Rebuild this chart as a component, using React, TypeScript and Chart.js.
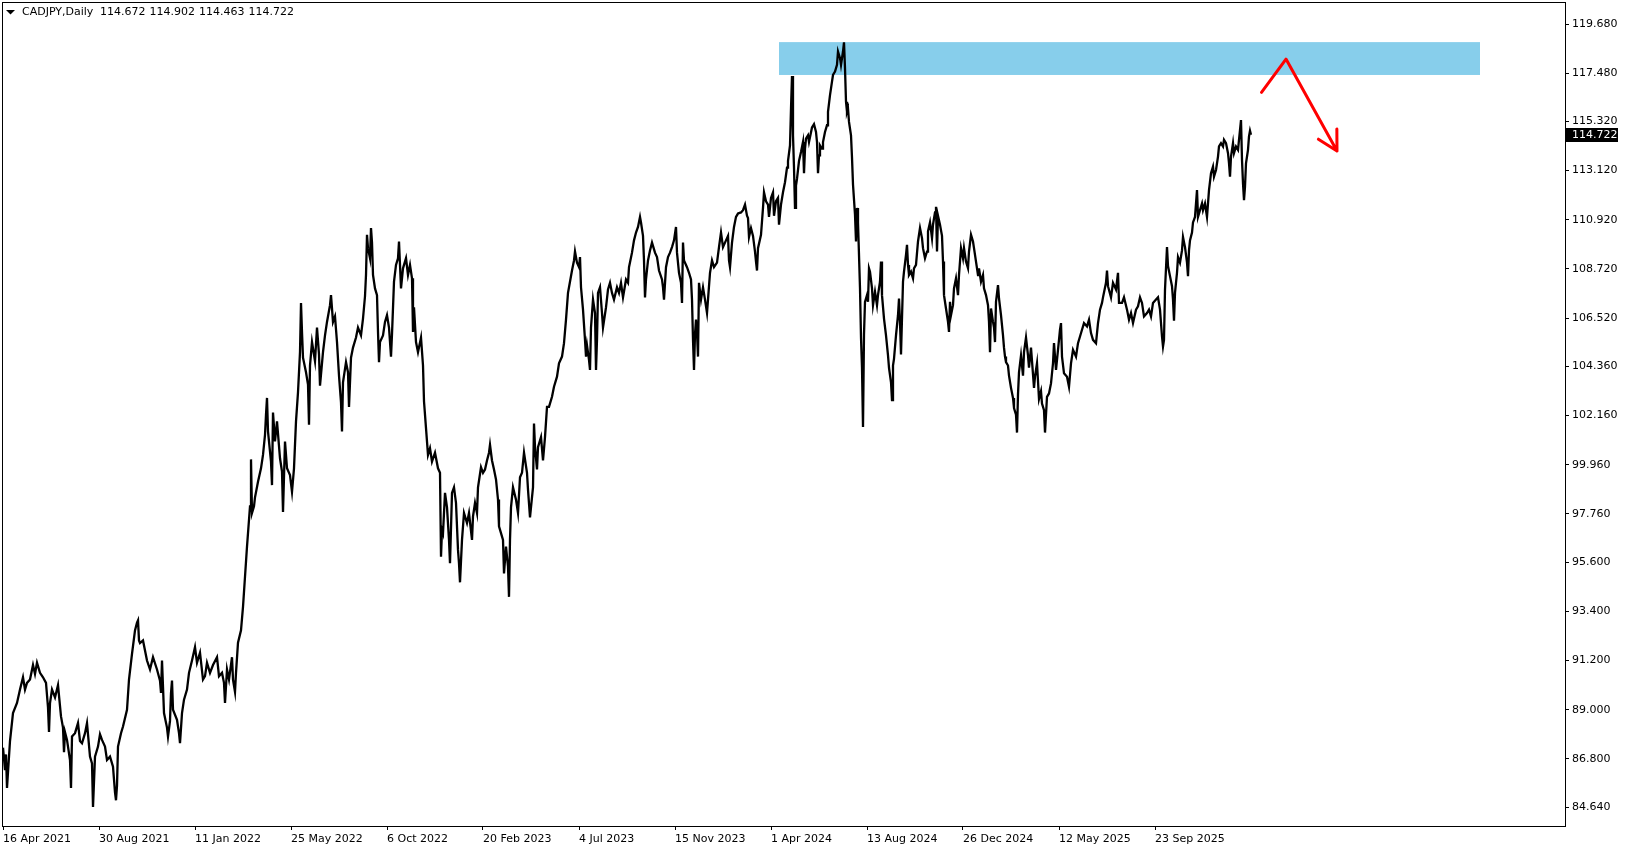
import { useEffect, useRef } from 'react';
import { Chart, registerables } from 'chart.js';

Chart.register(...registerables);

// ---- data ----
const symbolTitle = 'CADJPY,Daily';
const lastOHLC = ['114.672', '114.902', '114.463', '114.722'];
const lastPrice = 114.722;

const dateTickBars = [0, 96, 192, 288, 384, 480, 576, 672, 768, 864, 960, 1056, 1152];
const dateTickLabels = [
  '16 Apr 2021', '30 Aug 2021', '11 Jan 2022', '25 May 2022', '6 Oct 2022', '20 Feb 2023',
  '4 Jul 2023', '15 Nov 2023', '1 Apr 2024', '13 Aug 2024', '26 Dec 2024', '12 May 2025', '23 Sep 2025',
];
const priceTicks = [
  119.68, 117.48, 115.32, 113.12, 110.92, 108.72, 106.52, 104.36, 102.16,
  99.96, 97.76, 95.6, 93.4, 91.2, 89.0, 86.8, 84.64,
];

// bar index (trading day) and price path of the daily series
const bars = [
  0, 2, 3, 4, 5, 7, 10, 14, 17, 20, 22, 24, 27, 30, 32, 34, 37, 40, 43, 45, 46, 47, 49, 52, 55, 58, 60, 61, 62, 64,
  67, 68, 69, 72, 75, 77, 79, 82, 84, 87, 89, 90, 92, 95, 97, 99, 102, 104, 107, 110, 112, 113, 114, 115, 118, 120,
  124, 126, 129, 132, 134, 135, 136, 137, 140, 144, 147, 150, 154, 157, 158, 159, 161, 164, 165, 167, 168, 169, 170,
  174, 176, 177, 179, 181, 184, 186, 189, 192, 194, 197, 200, 202, 204, 207, 210, 214, 216, 219, 221, 222, 224, 226,
  229, 230, 232, 233, 235, 238, 240, 242, 244, 246, 247, 248, 249, 251,
  252, 255, 258, 260, 262, 263, 264, 265, 268, 269, 270, 272, 274, 277, 279, 280, 282, 284, 287, 289, 291, 293, 295,
  297, 298, 299, 300, 303, 305, 306, 307, 309, 312, 314, 316, 317, 320, 322, 324, 327, 328, 330, 332, 334, 336, 338,
  339, 340, 343, 345, 346, 348, 350, 353, 355, 358, 360, 362, 363, 364, 365, 367, 368, 369, 370, 372, 374, 375, 376,
  377, 380, 382, 384, 386, 388, 389, 391, 393, 395, 396, 398, 400, 403, 405, 407, 409, 410, 411, 413, 415, 418, 420,
  421, 423, 425, 427, 429, 432, 435,
  437, 438, 439, 440, 442, 444, 446, 447, 449, 451, 453, 455, 456, 457, 459, 461, 464, 466, 469, 470, 472, 474, 475,
  478, 480, 482, 484, 486, 487, 489, 491, 493, 495, 496, 498, 500, 501, 503, 505, 506, 507, 508, 510, 513, 515, 517,
  519, 521, 524, 525, 527, 528, 530, 531, 532, 534, 535, 538, 540, 542, 544, 546, 549, 551, 554, 556, 559, 561, 563,
  565, 566, 569, 571, 572, 574, 576, 577, 578, 580, 582, 583, 584, 586, 587, 588, 590, 592, 593, 594, 595, 597, 599,
  600, 603, 605, 607, 609, 611, 614, 616, 618, 620, 623, 625, 626, 629, 631, 633, 635, 637, 638, 640, 641, 642, 643,
  645, 647, 649, 652, 654, 656, 659, 660, 661, 663, 665, 667, 669, 671, 673, 674, 676, 678, 679, 680, 681, 684, 686,
  688, 689, 690, 691, 692, 693, 694, 695, 696, 698, 700, 702, 704, 705, 707, 709, 711, 714, 716, 718, 720, 723, 725,
  726, 727, 729, 731, 733, 735, 738, 740,
  742, 744, 745, 746, 748, 750, 752, 753, 754, 755, 758, 760, 761, 763, 765, 766, 768, 770, 771, 773, 775, 776, 778,
  780, 782, 784, 785, 787, 788, 789, 790, 791, 792, 793, 794, 796, 798, 800, 801, 802, 803, 805, 806, 809, 811, 813,
  814, 815, 816, 817, 819, 820, 822, 824, 825, 827, 829, 830, 832, 834, 835, 837, 838, 840, 841, 842, 843, 844, 845,
  846, 848, 849, 850, 852, 853, 854, 855, 856, 857, 858, 859, 860, 861, 862, 864, 865, 866,
  867, 869, 870, 872, 874, 875, 877, 878, 879, 881, 883, 885, 886, 888, 889, 890, 891, 893, 895, 896, 897, 898, 900,
  901, 903, 904, 905, 906, 908, 910, 911, 913, 915, 917, 919, 920, 922, 924, 925, 927, 929, 930, 932, 933, 934, 935,
  937, 939, 940, 941, 943, 945, 946, 947, 948, 950, 951, 953, 955, 956, 958, 960, 961, 963, 965, 966, 968, 970, 971,
  973, 975, 976, 978, 980, 981, 983, 985, 986, 987, 988, 990, 991, 992, 993, 995, 996, 998, 1000, 1001, 1002, 1003,
  1005, 1006, 1008, 1010, 1011, 1013, 1014, 1015, 1016, 1018, 1020, 1021, 1023, 1025, 1026, 1028,
  1030, 1031, 1032, 1034, 1036, 1038, 1039, 1041, 1042, 1044, 1046, 1048, 1050, 1051, 1053, 1055, 1057, 1058, 1059,
  1061, 1064, 1066, 1068, 1070, 1073, 1075, 1077, 1079, 1081, 1084, 1086, 1088, 1090, 1093, 1095, 1097, 1099, 1100,
  1103, 1104, 1105, 1108, 1110, 1113, 1115, 1116, 1119, 1121, 1124, 1126, 1128, 1130, 1133, 1135, 1137, 1139, 1141,
  1144, 1146, 1148, 1150, 1153, 1155, 1157, 1159, 1160, 1161, 1162, 1164, 1165, 1167, 1169, 1170, 1171, 1172, 1174,
  1175, 1177, 1179, 1180, 1182, 1184, 1185, 1186, 1187, 1189, 1190, 1192, 1194, 1195, 1197, 1199, 1200, 1202, 1204,
  1205, 1206, 1208, 1210, 1211, 1213, 1215, 1216, 1218, 1220, 1221, 1223, 1225, 1226, 1227, 1228, 1230, 1231, 1233,
  1235, 1236, 1238, 1239, 1240, 1241, 1242, 1243, 1245, 1246, 1247, 1248,
];
const prices = [
  87.3, 86.3, 87.0, 85.5, 86.2, 87.6, 88.85, 89.3, 89.9, 90.45, 89.9, 90.2, 90.35, 91.0, 90.6, 91.1, 90.65, 90.45, 90.2, 89.1, 88.0, 89.3, 89.9, 89.55, 90.1, 88.7, 88.2, 87.1, 88.0, 87.65,
  86.75, 85.5, 87.8, 87.95, 88.4, 87.6, 87.5, 87.95, 88.4, 86.9, 86.6, 84.65, 86.9, 87.35, 87.9, 87.65, 87.35, 86.75, 86.9, 86.45, 85.3, 84.95, 85.6, 87.35, 87.95, 88.25,
  89.0, 90.35, 91.5, 92.55, 92.9, 93.0, 92.1, 91.98, 92.1, 91.2, 90.8, 91.35, 90.8, 90.3, 89.75, 91.2, 88.85, 88.2, 87.8, 88.5, 89.75, 90.3, 89.0,
  88.55, 87.95, 87.5, 88.85, 89.45, 89.9, 90.65, 91.2, 91.8, 91.1, 91.55, 90.35, 90.5, 91.1, 90.65, 91.0, 91.35, 90.5, 90.65, 90.2, 89.3, 90.8, 90.35,
  91.35, 90.35, 89.8, 90.65, 92.0, 92.55, 93.6, 94.95, 96.3, 97.5, 98.1, 100.2, 97.8, 98.1,
  98.5, 99.2, 99.8, 100.4, 101.3, 102.2, 102.95, 101.45, 100.1, 99.05, 102.3, 101.0, 101.9, 100.25, 99.65, 97.85, 101.0, 99.8, 99.5, 98.75, 99.8, 101.9, 103.2,
  105.0, 107.2, 105.9, 104.75, 104.1, 103.55, 101.75, 104.4, 105.45, 104.6, 106.1, 104.9, 103.5, 105.0, 105.75, 106.35, 107.1, 107.55, 106.35, 106.6, 105.45, 103.95, 102.75,
  101.45, 103.65, 104.55, 104.1, 102.55, 104.75, 105.2, 105.65, 106.1, 105.75, 106.5, 107.5, 108.45, 110.25, 109.65, 109.2, 110.55, 109.9, 108.45, 107.85, 107.55, 105.9, 104.55,
  105.45, 105.75, 106.35, 106.65, 106.1, 104.8, 105.8, 108.15, 108.9, 109.2, 109.95, 107.85, 108.75, 109.2, 108.45, 108.9, 108.3, 105.9, 107.0, 105.45, 105.0, 105.65, 104.4,
  102.8, 101.6, 100.4, 100.7, 100.1, 100.5, 99.8,
  99.6, 95.85, 97.05, 96.9, 98.7, 98.05, 96.6, 95.55, 98.7, 98.95, 98.25, 96.15, 95.55, 94.7, 96.6, 97.8, 97.35, 97.8, 96.6, 97.65, 98.25, 97.8, 98.95,
  99.85, 99.6, 99.75, 100.15, 100.5, 100.85, 100.15, 99.75, 99.3, 98.4, 97.2, 96.9, 96.6, 95.1, 96.3, 95.4, 94.05, 96.6, 98.05, 98.95, 98.4, 97.8, 99.4,
  99.6, 100.5, 99.6, 98.85, 97.6, 98.05, 98.95, 101.8, 100.75, 99.75, 100.75, 101.2, 100.15, 101.2, 102.55, 102.55, 103.0, 103.45, 103.9, 104.5, 104.8, 105.4, 106.45,
  107.65, 107.9, 108.65, 109.1, 109.5, 109.0, 108.8, 109.25, 107.9, 106.9, 105.55, 104.8, 105.3, 104.65, 104.2, 106.1, 107.35, 106.75, 104.2, 105.55, 107.65, 107.9, 106.75,
  106.1, 107.0, 107.8, 108.1, 107.65, 107.35, 107.9, 107.65, 108.1, 107.45, 108.25, 108.1, 108.8, 109.45, 110.0, 110.35, 110.6, 111.05, 110.8, 110.2, 109.1, 107.45, 108.25,
  109.1, 109.55, 109.9, 109.45, 109.25, 108.65, 108.25, 107.9, 107.35, 108.8, 109.25, 109.45, 109.7, 110.0, 110.6, 109.45, 108.55, 108.1, 107.2, 109.9, 109.1, 108.8, 108.55,
  108.25, 107.35, 105.55, 104.2, 105.8, 106.45, 105.85, 104.8, 108.1, 107.35, 107.9, 107.35, 106.75, 107.35, 108.55, 109.1, 108.8, 109.0, 109.7, 110.35, 109.7, 110.0, 110.2,
  109.1, 108.8, 109.9, 110.6, 111.05, 111.2, 111.25, 111.35,
  111.6, 111.1, 111.0, 110.15, 110.55, 110.2, 109.5, 109.05, 108.65, 109.65, 110.25, 111.45, 112.15, 111.75, 111.6, 111.05, 111.9, 112.15, 111.1, 111.75, 111.9, 110.7, 111.6,
  112.15, 112.6, 113.25, 113.55, 114.25, 115.9, 117.35, 114.7, 113.25, 111.45, 112.45, 112.75, 113.55, 113.95, 114.4, 113.0, 114.1, 114.55, 114.7, 114.4, 115.05, 115.2, 114.85,
  114.4, 113.0, 113.8, 114.25, 114.1, 114.4, 114.85, 115.15, 115.75, 116.5, 117.1, 117.4, 117.55, 117.85, 118.45, 118.15, 117.85, 118.45, 118.86, 117.7, 116.2, 115.75, 115.9,
  115.3, 114.7, 113.7, 112.5, 111.15, 109.95, 111.45, 110.8, 109.35, 107.85, 105.65, 104.3, 101.65, 105.8, 107.25, 107.55, 107.25, 108.75,
  108.6, 107.85, 107.1, 107.7, 107.1, 107.55, 108.15, 109.05, 107.55, 106.5, 105.75, 104.85, 104.3, 103.65, 102.85, 104.4, 104.7, 105.75, 106.65, 107.4, 106.35, 104.9, 108.15,
  108.6, 109.35, 109.8, 108.9, 108.45, 108.6, 108.3, 108.75, 108.9, 109.95, 110.55, 110.1, 109.65, 109.2, 109.5, 110.4, 110.8, 110.1, 110.7, 111.25, 111.5, 109.5, 111.1,
  110.7, 110.2, 109.05, 107.55, 106.95, 106.35, 105.9, 107.25, 106.65, 107.1, 107.85, 108.3, 107.55, 108.45, 109.65, 109.2, 109.65, 109.05, 108.75, 109.5, 110.25, 109.95, 109.65,
  109.05, 108.45, 108.75, 108.15, 108.45, 107.85, 107.55, 107.1, 106.35, 105.0, 106.95, 106.35, 106.1, 105.45, 107.25, 108.0, 107.4, 106.65, 105.75, 105.2, 104.8, 104.55,
  104.4, 103.95, 103.4, 102.95, 102.5, 102.2, 101.4, 103.1, 104.1, 104.85, 103.95, 105.0, 105.65, 104.85, 104.3, 105.2,
  104.0, 103.4, 103.9, 104.5, 102.9, 103.25, 102.7, 102.4, 101.4, 103.0, 103.15, 103.6, 104.5, 105.4, 104.2, 105.1, 106.0, 106.3, 104.8,
  104.05, 103.9, 103.45, 104.5, 105.1, 104.8, 105.4, 105.7, 106.0, 106.3, 106.15, 106.45, 105.85, 105.55, 105.4, 106.3, 106.9, 107.2, 107.45,
  108.1, 108.65, 107.95, 107.45, 108.1, 107.8, 108.55, 107.2, 107.2, 107.45, 106.9, 106.45, 106.75, 106.3, 106.9, 107.05, 107.45, 107.2, 106.6,
  106.75, 106.9, 106.6, 107.2, 107.35, 107.45, 106.9, 105.7, 105.25, 105.55, 107.8, 109.7, 108.85, 108.4, 107.95, 107.35, 106.4, 107.65, 108.55,
  109.25, 109.0, 109.55, 110.15, 109.7, 109.0, 108.4, 109.55, 110.0, 110.35, 110.8, 111.05, 112.25, 111.05, 111.35, 111.65, 111.35, 111.65, 111.05,
  111.65, 112.25, 113.0, 113.3, 112.85, 113.15, 113.75, 114.2, 114.35, 114.2, 114.5, 114.35, 113.9, 113.45, 112.85, 113.75, 114.35, 113.9, 114.2,
  114.05, 114.5, 115.38, 113.6, 112.55, 111.8, 112.4, 113.45, 114.05, 114.65, 114.9, 114.722,
];

// resistance zone (bar range, price range)
const zoneBars = [776, 1477];
const zonePrices = [118.87, 117.4];
// red arrow drawn by hand
const arrowBars = [1258.5, 1283, 1334];
const arrowPrices = [116.62, 118.11, 114.0];

const FONT = '11px "DejaVu Sans"';

export default function App() {
  const ref = useRef<HTMLCanvasElement>(null);

  useEffect(() => {
    document.body.style.margin = '0';
    const canvas = ref.current;
    if (!canvas) return;

    const mt4Plugin = {
      id: 'mt4Overlay',
      beforeDatasetsDraw(chart: any) {
        const { ctx, scales } = chart;
        const xs = scales.x;
        const ys = scales.y;
        const x1 = xs.getPixelForValue(zoneBars[0]);
        const x2 = xs.getPixelForValue(zoneBars[1]);
        const y1 = ys.getPixelForValue(zonePrices[0]);
        const y2 = ys.getPixelForValue(zonePrices[1]);
        ctx.save();
        ctx.fillStyle = '#87CEEB';
        ctx.fillRect(x1, y1, x2 - x1, y2 - y1);
        ctx.restore();
      },
      afterDatasetsDraw(chart: any) {
        const { ctx, scales } = chart;
        const xs = scales.x;
        const ys = scales.y;
        const pts = arrowBars.map((b, i) => [xs.getPixelForValue(b), ys.getPixelForValue(arrowPrices[i])]);
        ctx.save();
        ctx.strokeStyle = '#FF0000';
        ctx.lineWidth = 3;
        ctx.lineCap = 'round';
        ctx.lineJoin = 'round';
        ctx.beginPath();
        ctx.moveTo(pts[0][0], pts[0][1]);
        for (let i = 1; i < pts.length; i++) ctx.lineTo(pts[i][0], pts[i][1]);
        const [ex, ey] = pts[pts.length - 1];
        const [px, py] = pts[pts.length - 2];
        const ang = Math.atan2(ey - py, ex - px);
        const len = 22;
        const spread = 0.5;
        ctx.moveTo(ex - len * Math.cos(ang - spread), ey - len * Math.sin(ang - spread));
        ctx.lineTo(ex, ey);
        ctx.lineTo(ex - len * Math.cos(ang + spread), ey - len * Math.sin(ang + spread));
        ctx.stroke();
        ctx.restore();
      },
      afterDraw(chart: any) {
        const { ctx, chartArea, scales } = chart;
        ctx.save();
        // frame
        ctx.strokeStyle = '#000';
        ctx.lineWidth = 1;
        ctx.strokeRect(chartArea.left - 0.5, chartArea.top - 0.5, chartArea.right - chartArea.left + 1, chartArea.bottom - chartArea.top + 1);
        // header
        ctx.fillStyle = '#000';
        ctx.beginPath();
        ctx.moveTo(6, 10);
        ctx.lineTo(15, 10);
        ctx.lineTo(10.5, 14.5);
        ctx.closePath();
        ctx.fill();
        ctx.font = FONT;
        ctx.textBaseline = 'middle';
        ctx.textAlign = 'left';
        ctx.fillText(symbolTitle, 22, 12.5);
        lastOHLC.forEach((v, i) => ctx.fillText(v, 100 + i * 49.5, 12.5));
        // last price box
        const y = Math.round(scales.y.getPixelForValue(lastPrice));
        ctx.fillStyle = '#000';
        ctx.fillRect(chartArea.right + 1, y - 7, 52, 14);
        ctx.fillStyle = '#fff';
        ctx.fillText(lastPrice.toFixed(3), chartArea.right + 7, y + 0.5);
        ctx.restore();
      },
    };

    const chart = new Chart(canvas, {
      type: 'line',
      data: {
        datasets: [
          {
            data: bars.map((b, i) => ({ x: b, y: prices[i] })),
            borderColor: '#000',
            borderWidth: 2.3,
            borderJoinStyle: 'miter',
            pointRadius: 0,
            tension: 0,
            fill: false,
          },
        ],
      },
      options: {
        animation: false,
        responsive: false,
        devicePixelRatio: 1,
        layout: { padding: { left: 3, top: 3, right: 0, bottom: 0 } },
        plugins: { legend: { display: false }, tooltip: { enabled: false } },
        scales: {
          x: {
            type: 'linear',
            position: 'bottom',
            min: 0,
            max: 1562,
            afterFit(scale: any) {
              scale.height = 24;
              scale.paddingLeft = 0;
              scale.paddingRight = 0;
            },
            afterBuildTicks(scale: any) {
              scale.ticks = dateTickBars.map((v) => ({ value: v }));
            },
            grid: { display: true, drawOnChartArea: false, drawTicks: true, tickLength: 4, color: '#000', tickColor: '#000' },
            border: { display: false },
            ticks: {
              autoSkip: false,
              maxRotation: 0,
              minRotation: 0,
              align: 'start',
              padding: 3,
              color: '#000',
              font: { family: 'DejaVu Sans', size: 11 },
              callback: (v: any) => {
                const i = dateTickBars.indexOf(Number(v));
                return i >= 0 ? dateTickLabels[i] : '';
              },
            },
          },
          y: {
            type: 'linear',
            position: 'right',
            min: 83.797,
            max: 120.62,
            afterFit(scale: any) {
              scale.width = 64;
              scale.paddingTop = 0;
              scale.paddingBottom = 0;
            },
            afterBuildTicks(scale: any) {
              scale.ticks = priceTicks.map((v) => ({ value: v }));
            },
            grid: { display: true, drawOnChartArea: false, drawTicks: true, tickLength: 4, color: '#000', tickColor: '#000' },
            border: { display: false },
            ticks: {
              autoSkip: false,
              padding: 3,
              color: '#000',
              font: { family: 'DejaVu Sans', size: 11 },
              callback: (v: any) => Number(v).toFixed(3),
            },
          },
        },
      },
      plugins: [mt4Plugin],
    });

    return () => chart.destroy();
  }, []);

  return (
    <div style={{ position: 'absolute', left: 0, top: 0, width: 1629, height: 850, background: '#fff' }}>
      <canvas ref={ref} width={1629} height={850} style={{ display: 'block' }} />
    </div>
  );
}
